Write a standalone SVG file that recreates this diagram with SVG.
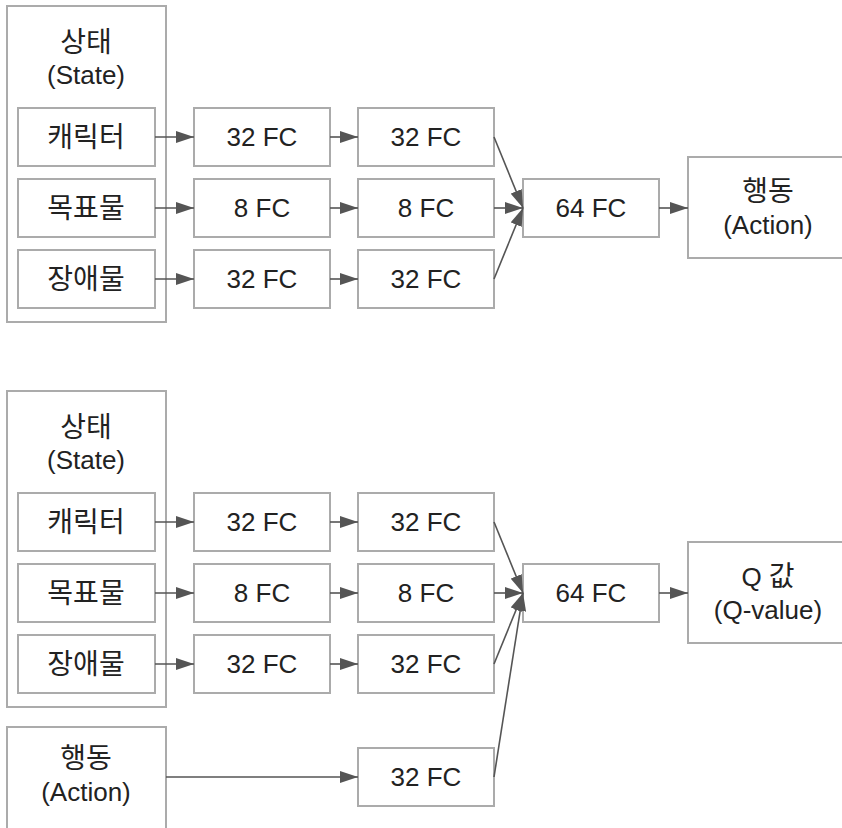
<svg xmlns="http://www.w3.org/2000/svg" width="842" height="828" viewBox="0 0 842 828">
<style>
.box{fill:#fff;stroke:#ababab;stroke-width:2}
.t{font-family:"Liberation Sans","Noto Sans CJK KR",sans-serif;font-size:26px;fill:#222;text-anchor:middle}
.k{font-size:28px}
.c{fill:none;stroke:#555;stroke-width:1.6}
</style>
<defs>
<marker id="ah" markerUnits="userSpaceOnUse" markerWidth="18" markerHeight="12" viewBox="0 0 18 12" refX="18" refY="6" orient="auto">
<path d="M0,0 L18,6 L0,12 Z" fill="#555"/>
</marker>
</defs>
<rect width="842" height="828" fill="#fff"/>

<!-- top network -->
<g id="state1"><rect class="box" x="7" y="6" width="159" height="316"/><text class="t k" x="86" y="52">상태</text><text class="t" x="86" y="84">(State)</text></g>
<g id="char1"><rect class="box" x="18" y="108" width="137" height="58"/><text class="t k" x="86" y="147">캐릭터</text></g>
<g id="goal1"><rect class="box" x="18" y="179" width="137" height="58"/><text class="t k" x="86" y="218">목표물</text></g>
<g id="obs1"><rect class="box" x="18" y="250" width="137" height="58"/><text class="t k" x="86" y="289">장애물</text></g>
<g id="a1"><rect class="box" x="194" y="108" width="136" height="58"/><text class="t" x="262" y="146">32 FC</text></g>
<g id="b1"><rect class="box" x="194" y="179" width="136" height="58"/><text class="t" x="262" y="217">8 FC</text></g>
<g id="c1"><rect class="box" x="194" y="250" width="136" height="58"/><text class="t" x="262" y="288">32 FC</text></g>
<g id="a2"><rect class="box" x="358" y="108" width="136" height="58"/><text class="t" x="426" y="146">32 FC</text></g>
<g id="b2"><rect class="box" x="358" y="179" width="136" height="58"/><text class="t" x="426" y="217">8 FC</text></g>
<g id="c2"><rect class="box" x="358" y="250" width="136" height="58"/><text class="t" x="426" y="288">32 FC</text></g>
<g id="fc64a"><rect class="box" x="523" y="179" width="136" height="58"/><text class="t" x="591" y="217">64 FC</text></g>
<g id="act1"><rect class="box" x="688" y="157" width="160" height="101"/><text class="t k" x="768" y="201">행동</text><text class="t" x="768" y="234">(Action)</text></g>

<!-- bottom network -->
<g id="state2"><rect class="box" x="7" y="391" width="159" height="316"/><text class="t k" x="86" y="437">상태</text><text class="t" x="86" y="469">(State)</text></g>
<g id="char2"><rect class="box" x="18" y="493" width="137" height="58"/><text class="t k" x="86" y="532">캐릭터</text></g>
<g id="goal2"><rect class="box" x="18" y="564" width="137" height="58"/><text class="t k" x="86" y="603">목표물</text></g>
<g id="obs2"><rect class="box" x="18" y="635" width="137" height="58"/><text class="t k" x="86" y="674">장애물</text></g>
<g id="a3"><rect class="box" x="194" y="493" width="136" height="58"/><text class="t" x="262" y="531">32 FC</text></g>
<g id="b3"><rect class="box" x="194" y="564" width="136" height="58"/><text class="t" x="262" y="602">8 FC</text></g>
<g id="c3"><rect class="box" x="194" y="635" width="136" height="58"/><text class="t" x="262" y="673">32 FC</text></g>
<g id="a4"><rect class="box" x="358" y="493" width="136" height="58"/><text class="t" x="426" y="531">32 FC</text></g>
<g id="b4"><rect class="box" x="358" y="564" width="136" height="58"/><text class="t" x="426" y="602">8 FC</text></g>
<g id="c4"><rect class="box" x="358" y="635" width="136" height="58"/><text class="t" x="426" y="673">32 FC</text></g>
<g id="d4"><rect class="box" x="358" y="748" width="136" height="58"/><text class="t" x="426" y="786">32 FC</text></g>
<g id="fc64b"><rect class="box" x="523" y="564" width="136" height="58"/><text class="t" x="591" y="602">64 FC</text></g>
<g id="qval"><rect class="box" x="688" y="542" width="160" height="101"/><text class="t" x="768" y="586">Q <tspan class="k">값</tspan></text><text class="t" x="768" y="619">(Q-value)</text></g>
<g id="act2"><rect class="box" x="7" y="727" width="159" height="110"/><text class="t k" x="86" y="768">행동</text><text class="t" x="86" y="801">(Action)</text></g>

<g id="connectors">
<path class="c" marker-end="url(#ah)" d="M155,137 H194"/>
<path class="c" marker-end="url(#ah)" d="M155,208 H194"/>
<path class="c" marker-end="url(#ah)" d="M155,279 H194"/>
<path class="c" marker-end="url(#ah)" d="M330,137 H358"/>
<path class="c" marker-end="url(#ah)" d="M330,208 H358"/>
<path class="c" marker-end="url(#ah)" d="M330,279 H358"/>
<path class="c" marker-end="url(#ah)" d="M494,137 L523,208"/>
<path class="c" marker-end="url(#ah)" d="M494,208 H523"/>
<path class="c" marker-end="url(#ah)" d="M494,279 L523,208"/>
<path class="c" marker-end="url(#ah)" d="M659,208 H688"/>

<path class="c" marker-end="url(#ah)" d="M155,522 H194"/>
<path class="c" marker-end="url(#ah)" d="M155,593 H194"/>
<path class="c" marker-end="url(#ah)" d="M155,664 H194"/>
<path class="c" marker-end="url(#ah)" d="M330,522 H358"/>
<path class="c" marker-end="url(#ah)" d="M330,593 H358"/>
<path class="c" marker-end="url(#ah)" d="M330,664 H358"/>
<path class="c" marker-end="url(#ah)" d="M166,777 H358"/>
<path class="c" marker-end="url(#ah)" d="M494,522 L523,593"/>
<path class="c" marker-end="url(#ah)" d="M494,593 H523"/>
<path class="c" marker-end="url(#ah)" d="M494,664 L523,593"/>
<path class="c" marker-end="url(#ah)" d="M494,777 L523,593"/>
<path class="c" marker-end="url(#ah)" d="M659,593 H688"/>
</g>
</svg>
